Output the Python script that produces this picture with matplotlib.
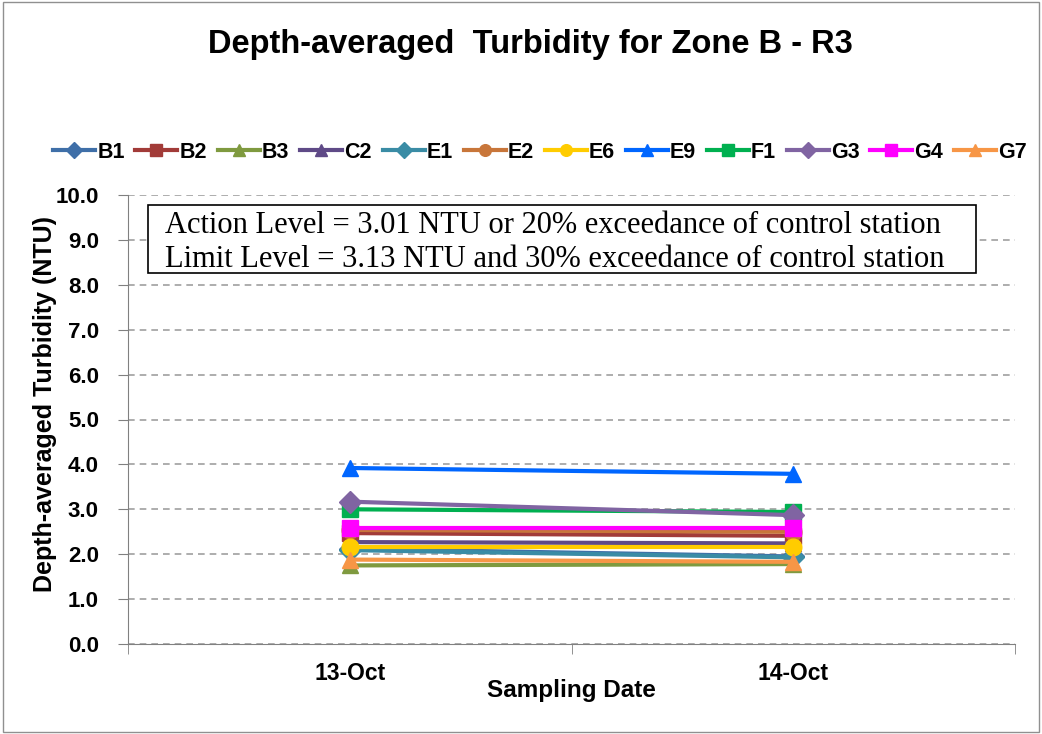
import matplotlib.pyplot as plt
import numpy as np
from matplotlib.patches import Rectangle

plt.rcParams['font.family'] = ['Liberation Sans', 'DejaVu Sans']

# Data
dates = ['13-Oct', '14-Oct']
stations = ['B1', 'B2', 'B3', 'C2', 'E1', 'E2', 'E6', 'E9', 'F1', 'G3', 'G4', 'G7']
b1 = [2.12, 1.95]
b2 = [2.47, 2.41]
b3 = [1.75, 1.78]
c2 = [2.27, 2.24]
e1 = [2.09, 1.93]
e2 = [2.54, 2.50]
e6 = [2.15, 2.15]
e9 = [3.92, 3.79]
f1 = [3.00, 2.94]
g3 = [3.17, 2.87]
g4 = [2.59, 2.59]
g7 = [1.88, 1.83]
values = [b1, b2, b3, c2, e1, e2, e6, e9, f1, g3, g4, g7]

colors = ['#3F6FA8', '#A23B38', '#7F9A3F', '#5F4A87', '#3A8CA5', '#C8763A',
          '#FFCC00', '#0066FF', '#00B050', '#8064A2', '#FF00FF', '#F79646']
markers = ['D', 's', '^', '^', 'D', 'o', 'o', '^', 's', 'D', 's', '^']

fig = plt.figure(figsize=(10.42, 7.34), dpi=100)
ax = fig.add_axes([128/1042, 1 - 644/734, (1015-128)/1042, (644-195)/734])

x = np.arange(len(dates))
for name, vals, c, m in zip(stations, values, colors, markers):
    ax.plot(x, vals, color=c, marker=m, linewidth=3, markersize=12 if m != 'D' else 11,
            label=name)

ax.set_xlim(-0.5, 1.5)
ax.set_ylim(0, 10)
yt = np.arange(0, 10.1, 1)
ax.set_yticks(yt)
ax.set_yticklabels([f'{v:.1f}' for v in yt], fontsize=16, fontweight='bold')
ax.set_xticks(x)
ax.set_xticklabels(dates, fontsize=16.5, fontweight='bold')
ax.set_xticks([-0.5, 0.5, 1.5], minor=True)
ax.tick_params(axis='x', which='major', length=0, pad=13)
ax.tick_params(axis='x', which='minor', length=7, direction='out', color='#808080')
ax.tick_params(axis='y', length=7, direction='out', pad=14, color='#808080')
ax.grid(True, axis='y', linestyle=(0, (4, 3)), color='#A0A0A0', linewidth=1.2)
ax.set_axisbelow(True)
for s in ax.spines.values():
    s.set_color('#808080')
ax.spines['top'].set_visible(False)
ax.spines['right'].set_visible(False)

ax.set_xlabel('Sampling Date', fontsize=17.5, fontweight='bold', labelpad=-4)
ax.set_ylabel('Depth-averaged Turbidity (NTU)', fontsize=18, fontweight='bold')
ax.yaxis.set_label_coords(-0.080, 0.535)

fig.text(530/1042, 1 - 45/734, 'Depth-averaged  Turbidity for Zone B - R3', ha='center', va='center',
         fontsize=23.5, fontweight='bold')

ax.legend(loc='center', bbox_to_anchor=(540/1042, 1 - 152/734), bbox_transform=fig.transFigure,
          ncol=12, frameon=False, prop={'weight': 'bold', 'size': 15.5},
          handlelength=1.95, handletextpad=0.1, columnspacing=0.5, markerscale=0.7)

# Action / limit level note
ax.add_patch(Rectangle((0.0225, 0.826), 0.9335, 0.152, transform=ax.transAxes,
                       facecolor='white', edgecolor='black', linewidth=1.2, zorder=5))
serif = ['Liberation Serif', 'DejaVu Serif']
ax.text(0.0417, 0.932, 'Action Level = 3.01 NTU or 20% exceedance of control station',
        transform=ax.transAxes, ha='left', va='center', fontsize=22, family=serif, zorder=6)
ax.text(0.0417, 0.856, 'Limit Level = 3.13 NTU and 30% exceedance of control station',
        transform=ax.transAxes, ha='left', va='center', fontsize=22, family=serif, zorder=6)

fig.patches.append(Rectangle((0.003, 0.003), 0.994, 0.994, transform=fig.transFigure,
                             fill=False, edgecolor='#909090', linewidth=1))

fig.savefig('out.png', dpi=100)
